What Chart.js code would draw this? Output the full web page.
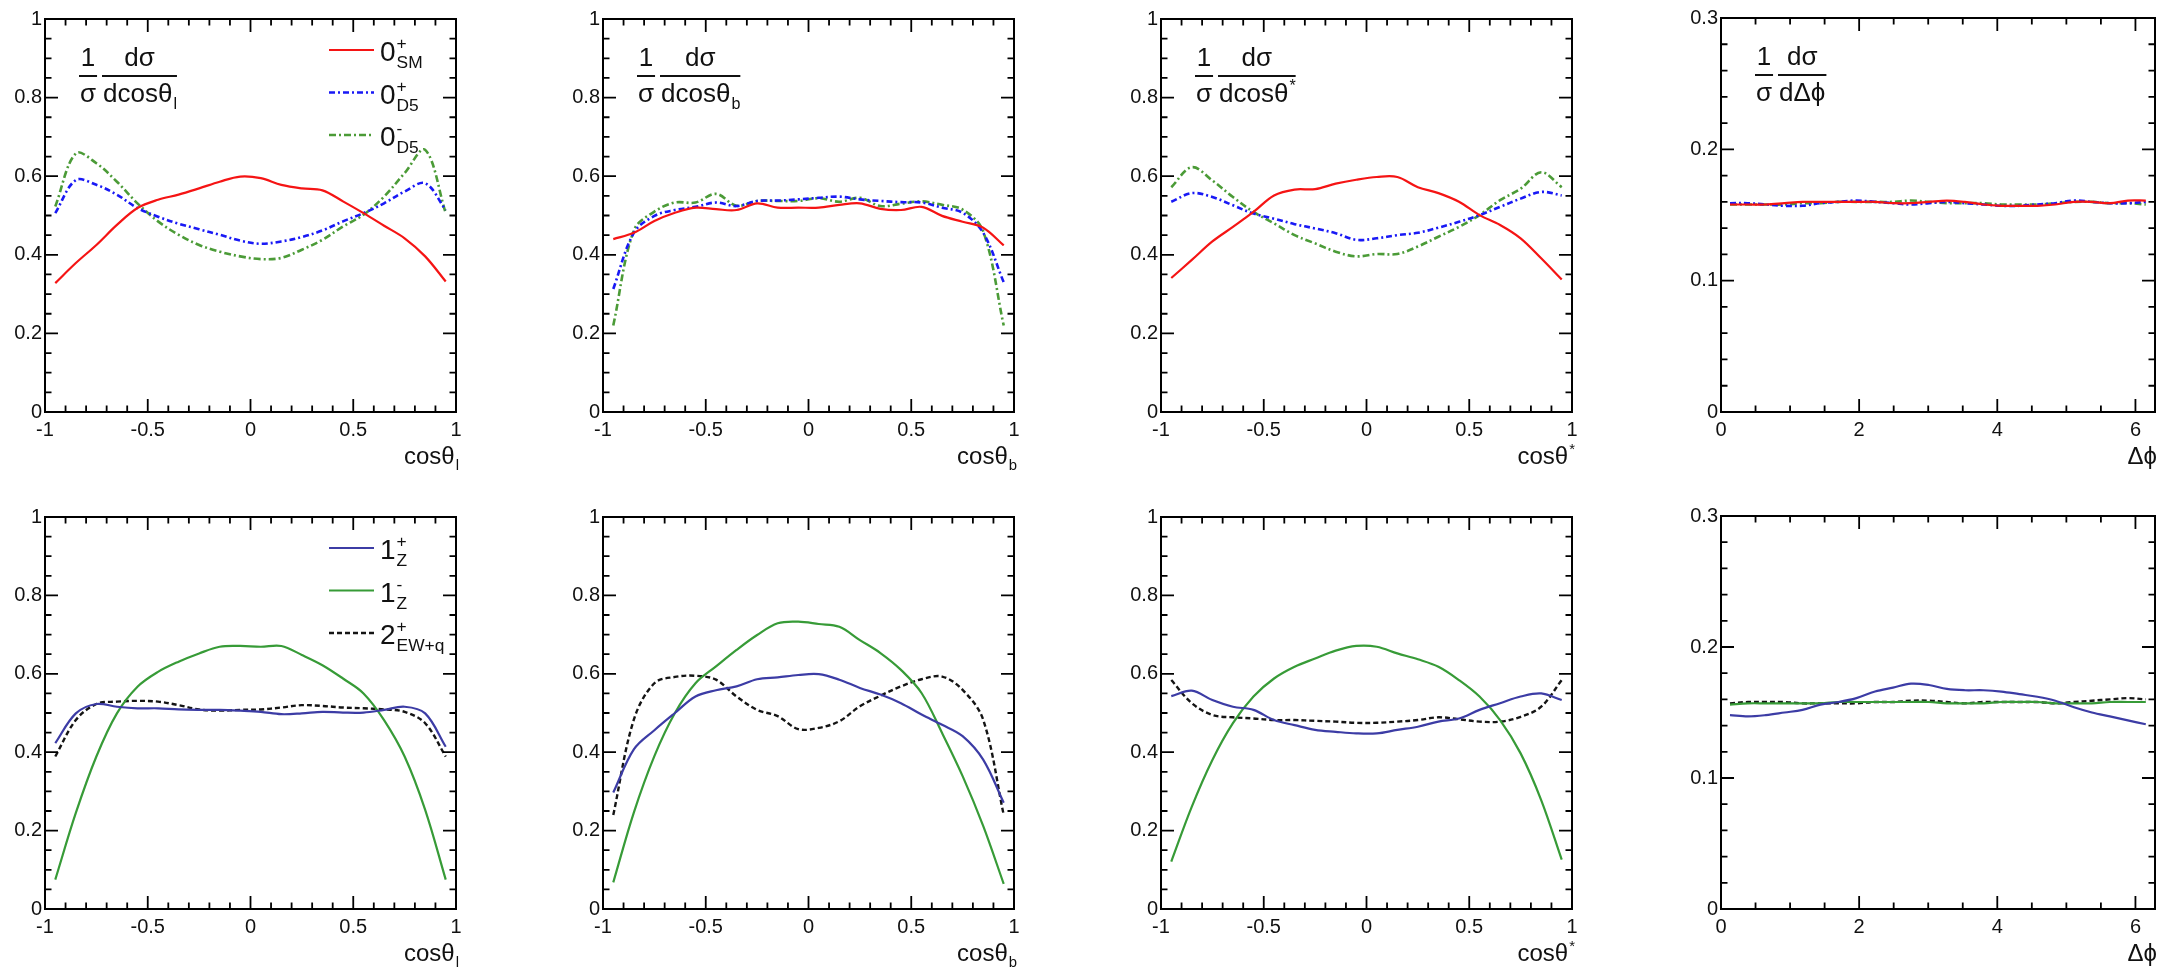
<!DOCTYPE html>
<html>
<head>
<meta charset="utf-8">
<script src="https://cdn.jsdelivr.net/npm/chart.js@4.4.0/dist/chart.umd.min.js"></script>
<style>
  html, body { margin: 0; padding: 0; background: #fff; }
  body { width: 2167px; height: 970px; position: relative; overflow: hidden; }
  canvas { position: absolute; }
</style>
</head>
<body>
<script>
// bin centres
const cosBins = [-0.95, -0.85, -0.75, -0.65, -0.55, -0.45, -0.35, -0.25, -0.15, -0.05,
                 0.05, 0.15, 0.25, 0.35, 0.45, 0.55, 0.65, 0.75, 0.85, 0.95];
const dphiBins = [0.13, 0.39, 0.65, 0.92, 1.18, 1.44, 1.70, 1.96, 2.23, 2.49, 2.75, 3.01,
                  3.27, 3.53, 3.80, 4.06, 4.32, 4.58, 4.84, 5.11, 5.37, 5.63, 5.89, 6.15];

// tick labels
const cosTicks = [-1, -0.5, 0, 0.5, 1];
const dphiTicks = [0, 2, 4, 6];
const cosFracTicks = [0, 0.2, 0.4, 0.6, 0.8, 1];
const dphiFracTicks = [0, 0.1, 0.2, 0.3];

// spin-0 hypotheses
const smCosL  = [0.328, 0.379, 0.425, 0.476, 0.519, 0.540, 0.553, 0.569, 0.586, 0.599, 0.595, 0.578, 0.569, 0.564, 0.536, 0.506, 0.474, 0.442, 0.396, 0.332];
const d5pCosL = [0.506, 0.590, 0.578, 0.553, 0.519, 0.497, 0.479, 0.465, 0.451, 0.436, 0.428, 0.434, 0.445, 0.462, 0.485, 0.506, 0.531, 0.561, 0.582, 0.514];
const d5mCosL = [0.523, 0.658, 0.633, 0.586, 0.531, 0.485, 0.451, 0.425, 0.408, 0.396, 0.389, 0.392, 0.413, 0.438, 0.472, 0.502, 0.548, 0.608, 0.667, 0.506];

const smCosB  = [0.440, 0.456, 0.486, 0.507, 0.520, 0.516, 0.514, 0.531, 0.520, 0.520, 0.520, 0.527, 0.531, 0.517, 0.514, 0.522, 0.499, 0.484, 0.469, 0.424];
const d5pCosB = [0.313, 0.456, 0.499, 0.514, 0.522, 0.533, 0.524, 0.537, 0.538, 0.541, 0.545, 0.548, 0.541, 0.537, 0.534, 0.533, 0.520, 0.507, 0.456, 0.330];
const d5mCosB = [0.220, 0.462, 0.510, 0.533, 0.533, 0.555, 0.525, 0.537, 0.537, 0.537, 0.544, 0.535, 0.545, 0.524, 0.530, 0.536, 0.527, 0.515, 0.460, 0.220];

const smCosS  = [0.341, 0.387, 0.434, 0.471, 0.509, 0.551, 0.566, 0.567, 0.581, 0.591, 0.598, 0.598, 0.572, 0.557, 0.535, 0.501, 0.476, 0.442, 0.391, 0.337];
const d5pCosS = [0.535, 0.557, 0.547, 0.526, 0.505, 0.492, 0.478, 0.467, 0.455, 0.438, 0.442, 0.450, 0.456, 0.469, 0.484, 0.501, 0.522, 0.543, 0.560, 0.551];
const d5mCosS = [0.572, 0.623, 0.589, 0.547, 0.509, 0.480, 0.450, 0.429, 0.408, 0.396, 0.402, 0.402, 0.421, 0.446, 0.471, 0.501, 0.539, 0.568, 0.610, 0.572];

const smDphi  = [0.158, 0.158, 0.158, 0.159, 0.160, 0.160, 0.160, 0.160, 0.160, 0.159, 0.159, 0.160, 0.161, 0.160, 0.158, 0.157, 0.157, 0.157, 0.158, 0.160, 0.160, 0.159, 0.161, 0.161];
const d5pDphi = [0.159, 0.159, 0.158, 0.157, 0.157, 0.159, 0.160, 0.161, 0.160, 0.159, 0.158, 0.159, 0.160, 0.159, 0.158, 0.157, 0.157, 0.158, 0.159, 0.161, 0.160, 0.159, 0.159, 0.160];
const d5mDphi = [0.158, 0.158, 0.158, 0.158, 0.159, 0.159, 0.160, 0.160, 0.160, 0.160, 0.161, 0.160, 0.159, 0.159, 0.159, 0.158, 0.158, 0.158, 0.159, 0.160, 0.160, 0.159, 0.159, 0.158];

// spin-1 / spin-2 hypotheses
const z1pCosL = [0.423, 0.499, 0.523, 0.516, 0.512, 0.512, 0.509, 0.508, 0.508, 0.506, 0.503, 0.497, 0.499, 0.503, 0.501, 0.501, 0.508, 0.516, 0.499, 0.414];
const z1mCosL = [0.075, 0.245, 0.389, 0.499, 0.567, 0.605, 0.631, 0.652, 0.669, 0.671, 0.669, 0.671, 0.648, 0.622, 0.588, 0.550, 0.482, 0.389, 0.253, 0.075];
const ewqCosL = [0.389, 0.482, 0.523, 0.529, 0.531, 0.529, 0.520, 0.509, 0.506, 0.508, 0.509, 0.514, 0.520, 0.518, 0.514, 0.512, 0.509, 0.503, 0.474, 0.389];

const z1pCosB = [0.297, 0.407, 0.456, 0.500, 0.542, 0.558, 0.568, 0.586, 0.591, 0.597, 0.599, 0.585, 0.564, 0.547, 0.525, 0.496, 0.470, 0.441, 0.381, 0.271];
const z1mCosB = [0.068, 0.246, 0.390, 0.500, 0.576, 0.619, 0.661, 0.699, 0.729, 0.733, 0.727, 0.720, 0.686, 0.653, 0.610, 0.551, 0.449, 0.339, 0.212, 0.064];
const ewqCosB = [0.240, 0.483, 0.576, 0.592, 0.595, 0.585, 0.542, 0.508, 0.492, 0.459, 0.462, 0.479, 0.517, 0.544, 0.568, 0.586, 0.593, 0.559, 0.483, 0.240];

const z1pCosS = [0.543, 0.557, 0.533, 0.516, 0.508, 0.482, 0.469, 0.457, 0.452, 0.448, 0.448, 0.457, 0.465, 0.478, 0.486, 0.508, 0.525, 0.542, 0.550, 0.533];
const z1mCosS = [0.121, 0.261, 0.380, 0.474, 0.542, 0.588, 0.618, 0.639, 0.659, 0.671, 0.669, 0.652, 0.637, 0.618, 0.584, 0.542, 0.482, 0.397, 0.278, 0.126];
const ewqCosS = [0.584, 0.525, 0.495, 0.489, 0.486, 0.482, 0.482, 0.480, 0.478, 0.475, 0.475, 0.478, 0.482, 0.489, 0.484, 0.478, 0.478, 0.490, 0.516, 0.584];

const z1pDphi = [0.148, 0.147, 0.148, 0.150, 0.152, 0.156, 0.158, 0.161, 0.166, 0.169, 0.172, 0.171, 0.168, 0.167, 0.167, 0.166, 0.164, 0.162, 0.159, 0.154, 0.150, 0.147, 0.144, 0.141];
const z1mDphi = [0.156, 0.157, 0.157, 0.157, 0.157, 0.157, 0.158, 0.158, 0.158, 0.158, 0.158, 0.158, 0.157, 0.157, 0.157, 0.158, 0.158, 0.158, 0.157, 0.157, 0.157, 0.158, 0.158, 0.158];
const ewqDphi = [0.157, 0.158, 0.158, 0.158, 0.157, 0.157, 0.157, 0.157, 0.158, 0.158, 0.159, 0.159, 0.158, 0.157, 0.158, 0.158, 0.158, 0.158, 0.157, 0.158, 0.159, 0.160, 0.161, 0.160];

const FONT = '"Liberation Sans", Arial, Helvetica, "DejaVu Sans", sans-serif';

const spin0Styles = [
  { color: 'rgb(245,20,20)', width: 2.2, dash: [] },
  { color: 'rgb(25,25,245)', width: 2.6, dash: [6, 3, 2, 3] },
  { color: 'rgb(75,155,55)', width: 2.6, dash: [7, 3, 2, 3] }
];
const spinZStyles = [
  { color: 'rgb(60,60,165)', width: 2.2, dash: [] },
  { color: 'rgb(55,155,55)', width: 2.2, dash: [] },
  { color: 'rgb(20,20,20)', width: 2.4, dash: [5, 3] }
];

const spin0Legend = [
  [{ t: '0', sup: '+', sub: 'SM' }],
  [{ t: '0', sup: '+', sub: 'D5' }],
  [{ t: '0', sup: '-', sub: 'D5' }]
];
const spinZLegend = [
  [{ t: '1', sup: '+', sub: 'Z' }],
  [{ t: '1', sup: '-', sub: 'Z' }],
  [{ t: '2', sup: '+', sub: 'EW+q' }]
];

const cosAxes = {
  x: { min: -1, max: 1, major: 0.5, minor: 0.1, labels: cosTicks },
  y: { min: 0, max: 1, major: 0.2, minor: 0.05, labels: cosFracTicks }
};
const dphiAxes = {
  x: { min: 0, max: 2 * Math.PI, major: 2, minor: 0.5, labels: dphiTicks },
  y: { min: 0, max: 0.3, major: 0.1, minor: 0.02, labels: dphiFracTicks }
};

// plot frame in page pixels: [left, top, right, bottom]
const panels = [
  { box: [45, 19, 456, 412], axes: cosAxes, bins: cosBins, series: [smCosL, d5pCosL, d5mCosL], styles: spin0Styles,
    legend: spin0Legend, den: [{ t: 'dcosθ', sub: 'l' }], xTitle: [{ t: 'cosθ', sub: 'l' }] },
  { box: [603, 19, 1014, 412], axes: cosAxes, bins: cosBins, series: [smCosB, d5pCosB, d5mCosB], styles: spin0Styles,
    den: [{ t: 'dcosθ', sub: 'b' }], xTitle: [{ t: 'cosθ', sub: 'b' }] },
  { box: [1161, 19, 1572, 412], axes: cosAxes, bins: cosBins, series: [smCosS, d5pCosS, d5mCosS], styles: spin0Styles,
    den: [{ t: 'dcosθ', sup: '*' }], xTitle: [{ t: 'cosθ', sup: '*' }] },
  { box: [1721, 18, 2155, 412], axes: dphiAxes, bins: dphiBins, series: [smDphi, d5pDphi, d5mDphi], styles: spin0Styles,
    den: [{ t: 'dΔϕ' }], xTitle: [{ t: 'Δϕ' }], yw: 62 },
  { box: [45, 517, 456, 909], axes: cosAxes, bins: cosBins, series: [z1pCosL, z1mCosL, ewqCosL], styles: spinZStyles,
    legend: spinZLegend, xTitle: [{ t: 'cosθ', sub: 'l' }] },
  { box: [603, 517, 1014, 909], axes: cosAxes, bins: cosBins, series: [z1pCosB, z1mCosB, ewqCosB], styles: spinZStyles,
    xTitle: [{ t: 'cosθ', sub: 'b' }] },
  { box: [1161, 517, 1572, 909], axes: cosAxes, bins: cosBins, series: [z1pCosS, z1mCosS, ewqCosS], styles: spinZStyles,
    xTitle: [{ t: 'cosθ', sup: '*' }] },
  { box: [1721, 516, 2155, 909], axes: dphiAxes, bins: dphiBins, series: [z1pDphi, z1mDphi, ewqDphi], styles: spinZStyles,
    xTitle: [{ t: 'Δϕ' }], yw: 62 }
];

// text with stacked super/subscripts, returns its width
function drawRich(ctx, parts, x, y, size, align) {
  const small = size * 0.62;
  const sizes = parts.map(p => {
    ctx.font = `${size}px ${FONT}`;
    const w = ctx.measureText(p.t || '').width;
    ctx.font = `${small}px ${FONT}`;
    const sw = Math.max(p.sup ? ctx.measureText(p.sup).width : 0, p.sub ? ctx.measureText(p.sub).width : 0);
    return { w, sw };
  });
  const total = sizes.reduce((s, m) => s + m.w + m.sw, 0);
  if (align !== 'measure') {
    let cx = align === 'right' ? x - total : align === 'center' ? x - total / 2 : x;
    ctx.textAlign = 'left';
    ctx.textBaseline = 'alphabetic';
    parts.forEach((p, i) => {
      ctx.font = `${size}px ${FONT}`;
      if (p.t) ctx.fillText(p.t, cx, y);
      cx += sizes[i].w + 1;
      ctx.font = `${small}px ${FONT}`;
      if (p.sup) ctx.fillText(p.sup, cx, y - size * 0.42);
      if (p.sub) ctx.fillText(p.sub, cx, y + size * 0.26);
      cx += sizes[i].sw - 1;
    });
  }
  return total;
}

function drawFraction(ctx, num, den, left, barY, size) {
  const nw = drawRich(ctx, num, 0, 0, size, 'measure');
  const dw = drawRich(ctx, den, 0, 0, size, 'measure');
  const w = Math.max(nw, dw) + 2;
  drawRich(ctx, num, left + w / 2, barY - 10, size, 'center');
  drawRich(ctx, den, left + w / 2, barY + 26, size, 'center');
  ctx.fillRect(left, barY - 1, w, 2);
  return w;
}

// frame, inward ticks on all sides, formula, legend and axis title
const rootDecor = {
  id: 'rootDecor',
  afterDatasetsDraw(chart, args, opts) {
    const { ctx, chartArea: a, scales } = chart;
    ctx.save();
    ctx.strokeStyle = '#000';
    ctx.fillStyle = '#000';

    ctx.lineWidth = 1.8;
    ctx.beginPath();
    const xs = opts.axes.x, ys = opts.axes.y;
    for (let i = 1; i * xs.minor + xs.min < xs.max - 1e-9; i++) {
      const v = xs.min + i * xs.minor;
      const r = v / xs.major;
      const len = Math.abs(r - Math.round(r)) < 1e-6 ? 13 : 6.5;
      const px = scales.x.getPixelForValue(v);
      ctx.moveTo(px, a.bottom); ctx.lineTo(px, a.bottom - len);
      ctx.moveTo(px, a.top); ctx.lineTo(px, a.top + len);
    }
    for (let i = 1; i * ys.minor + ys.min < ys.max - 1e-9; i++) {
      const v = ys.min + i * ys.minor;
      const r = v / ys.major;
      const len = Math.abs(r - Math.round(r)) < 1e-6 ? 13 : 6.5;
      const py = scales.y.getPixelForValue(v);
      ctx.moveTo(a.left, py); ctx.lineTo(a.left + len, py);
      ctx.moveTo(a.right, py); ctx.lineTo(a.right - len, py);
    }
    ctx.stroke();

    ctx.lineWidth = 2;
    ctx.strokeRect(a.left, a.top, a.right - a.left, a.bottom - a.top);

    ctx.fillStyle = '#111';
    if (opts.den) {
      const barY = a.top + 57;
      drawFraction(ctx, [{ t: '1' }], [{ t: 'σ' }], a.left + 34, barY, 26);
      drawFraction(ctx, [{ t: 'dσ' }], opts.den, a.left + 57, barY, 26);
    }

    if (opts.legend) {
      opts.legend.forEach((entry, i) => {
        const ds = chart.data.datasets[i];
        const ly = a.top + 31 + i * 42.5;
        ctx.save();
        ctx.strokeStyle = ds.borderColor;
        ctx.lineWidth = ds.borderWidth;
        ctx.setLineDash(ds.borderDash || []);
        ctx.beginPath();
        ctx.moveTo(a.right - 127, ly);
        ctx.lineTo(a.right - 82, ly);
        ctx.stroke();
        ctx.restore();
        drawRich(ctx, entry, a.right - 76, ly + 11, 28, 'left');
      });
    }

    drawRich(ctx, opts.xTitle, a.right + 2, a.bottom + 52, 24, 'right');
    ctx.restore();
  }
};

function makePanel(p) {
  const [l, t, r, b] = p.box;
  const yw = p.yw || 50;
  const padTop = 15, padRight = 12, xh = 62;
  const canvas = document.createElement('canvas');
  canvas.width = yw + (r - l) + padRight;
  canvas.height = padTop + (b - t) + xh;
  canvas.style.left = (l - yw) + 'px';
  canvas.style.top = (t - padTop) + 'px';
  document.body.appendChild(canvas);

  const datasets = p.series.map((vals, i) => ({
    data: p.bins.map((x, j) => ({ x, y: vals[j] })),
    borderColor: p.styles[i].color,
    borderWidth: p.styles[i].width,
    borderDash: p.styles[i].dash,
    pointRadius: 0,
    tension: 0.35,
    fill: false
  }));

  const tickFont = { family: FONT, size: 20 };
  const axisOpts = (spec, fitFn, pad) => ({
    type: 'linear',
    min: spec.min,
    max: spec.max,
    grid: { display: false, drawTicks: false },
    border: { display: false },
    ticks: { padding: pad, font: tickFont, color: '#111', autoSkip: false, maxRotation: 0,
             callback: v => String(v) },
    afterBuildTicks: s => { s.ticks = spec.labels.map(v => ({ value: v })); },
    afterFit: fitFn
  });

  new Chart(canvas, {
    type: 'line',
    data: { datasets },
    options: {
      responsive: false,
      animation: false,
      events: [],
      layout: { padding: { top: padTop, right: padRight, left: 0, bottom: 0 } },
      scales: {
        x: axisOpts(p.axes.x, s => { s.height = xh; }, 6),
        y: axisOpts(p.axes.y, s => { s.width = yw; }, 3)
      },
      plugins: {
        legend: { display: false },
        tooltip: { enabled: false },
        rootDecor: { axes: p.axes, den: p.den, legend: p.legend, xTitle: p.xTitle }
      }
    },
    plugins: [rootDecor]
  });
}

panels.forEach(makePanel);
</script>
</body>
</html>
